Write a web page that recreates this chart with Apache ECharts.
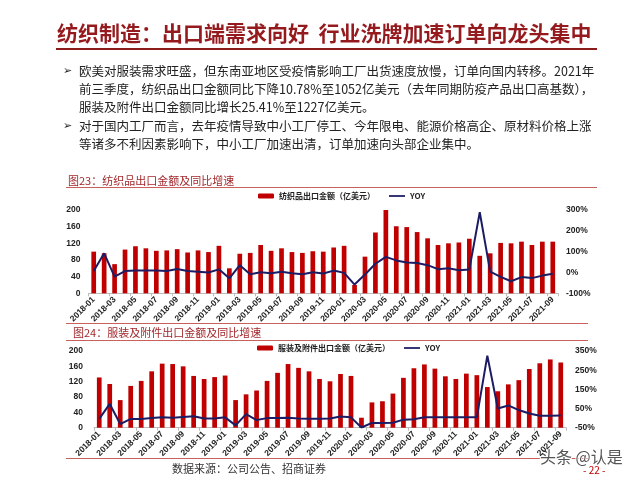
<!DOCTYPE html>
<html><head><meta charset="utf-8">
<script src="https://cdn.jsdelivr.net/npm/echarts@6/dist/echarts.min.js"></script>
<style>html,body{margin:0;padding:0;background:#fff}#c{width:640px;height:480px}</style>
</head><body><div id="c"></div>
<script>
const months = ['2018-01','2018-02','2018-03','2018-04','2018-05','2018-06','2018-07','2018-08','2018-09','2018-10','2018-11','2018-12',
'2019-01','2019-02','2019-03','2019-04','2019-05','2019-06','2019-07','2019-08','2019-09','2019-10','2019-11','2019-12',
'2020-01','2020-02','2020-03','2020-04','2020-05','2020-06','2020-07','2020-08','2020-09','2020-10','2020-11','2020-12',
'2021-01','2021-02','2021-03','2021-04','2021-05','2021-06','2021-07','2021-08','2021-09'];
const textileExports = [100,96,70,105,113,108,102,103,106,98,103,99,114,60,95,97,116,102,108,99,97,101,100,110,114,20,88,146,200,161,159,147,132,116,120,122,131,90,96,121,120,124,116,124,124];
const textileYoy = [7,92,-20,7,9,10,9,7,17,7,4,0,15,-28,35,-8,1,-4,4,-4,-8,1,-5,9,-2,-58,-10,42,75,58,48,45,35,16,20,11,14,289,4,-21,-42,-22,-27,-15,-6];
const apparelExports = [131,114,72,109,122,147,167,166,160,135,127,132,136,72,87,97,122,143,166,156,147,127,121,140,135,26,66,69,89,130,155,165,154,134,127,141,137,106,95,113,124,153,168,178,170];
const apparelYoy = [-4,74,-31,-4,-4,0,4,2,6,10,-2,-2,4,-38,21,-10,0,0,2,-2,-3,-3,-2,8,4,-49,-25,-25,-24,-8,-6,4,4,4,4,4,4,326,50,66,42,24,12,12,14];
const leftTicks1 = [0,200,40];
const rightTicks1 = [-100,300,100];
const leftTicks2 = [0,200,40];
const rightTicks2 = [-50,350,100];

const CJK = '"Noto Sans CJK SC", sans-serif';
const AX = '"Liberation Sans", Arial, sans-serif';
const red = '#c00000', navy = '#1c1c64', lineRed = '#c8605c';

function hline(y, x1, x2, color, w) {
  return {type:'rect', shape:{x:x1, y:y - w/2, width:x2 - x1, height:w}, style:{fill:color}, silent:true};
}
function txt(x, y, s, size, color, weight, family) {
  return {type:'text', x:x, y:y, style:{text:s, fontSize:size, fontFamily:family || CJK, fontWeight:weight || 'normal', fill:color, verticalAlign:'middle'}, silent:true};
}
const bodyColor = '#222';
const graphics = [
  txt(57, 33, '纺织制造：出口端需求向好  行业洗牌加速订单向龙头集中', 21, '#951a1e', 'bold'),
  hline(49, 56, 597, '#8b1a1a', 2),
  txt(63, 71, '➢', 11, bodyColor, 'bold', '"DejaVu Sans", sans-serif'),
  txt(79, 71, '欧美对服装需求旺盛，但东南亚地区受疫情影响工厂出货速度放慢，订单向国内转移。2021年', 12.5, bodyColor),
  txt(79, 89, '前三季度，纺织品出口金额同比下降10.78%至1052亿美元（去年同期防疫产品出口高基数），', 12.5, bodyColor),
  txt(79, 107, '服装及附件出口金额同比增长25.41%至1227亿美元。', 12.5, bodyColor),
  txt(63, 126, '➢', 11, bodyColor, 'bold', '"DejaVu Sans", sans-serif'),
  txt(79, 126, '对于国内工厂而言，去年疫情导致中小工厂停工、今年限电、能源价格高企、原材料价格上涨', 12.5, bodyColor),
  txt(79, 144, '等诸多不利因素影响下，中小工厂加速出清，订单加速向头部企业集中。', 12.5, bodyColor),
  txt(68, 181, '图23：纺织品出口金额及同比增速', 11, '#a3282c'),
  hline(187.5, 66, 597, lineRed, 1),
  hline(323.5, 66, 588, lineRed, 1),
  txt(73, 333, '图24：服装及附件出口金额及同比增速', 11, '#a3282c'),
  hline(340.5, 66, 588, lineRed, 1),
  hline(458.5, 66, 588, lineRed, 1),
  txt(172, 469, '数据来源：公司公告、招商证券', 11, '#333'),
  txt(583, 470, '- 22 -', 10, '#c00000'),
  {type:'text', x:540, y:457, style:{text:'头条 @认是', fontSize:16, fontFamily:CJK, fill:'#555', stroke:'#fff', lineWidth:2, verticalAlign:'middle'}, silent:true}
];

function yAxisDef(grid, ticks, isRight, pct, margin) {
  return {type:'value', gridIndex:grid, min:ticks[0], max:ticks[1], interval:ticks[2], position:isRight ? 'right' : 'left',
    splitLine:{show:false}, axisLine:{show:false}, axisTick:{show:false},
    axisLabel:{fontSize:8.5, fontFamily:AX, fontWeight:'bold', color:'#222', margin:margin, formatter: pct ? '{value}%' : '{value}'}};
}
function xAxisDef(grid) {
  return {type:'category', gridIndex:grid, data:months,
    axisLine:{lineStyle:{color:'#bbb'}}, axisTick:{show:true, lineStyle:{color:'#bbb'}, length:3},
    axisLabel:{interval:1, rotate:45, fontSize:8.5, fontFamily:AX, fontWeight:'bold', color:'#222', margin:5}};
}
const legendText = {fontSize:8, fontFamily:CJK, fontWeight:'bold', color:'#222'};
const lineIcon = 'path://M0,0L20,0L20,2.2L0,2.2Z';
const option = {
  animation:false,
  backgroundColor:'#fff',
  graphic: graphics,
  legend:[
    {data:['纺织品出口金额（亿美元）', {name:'YOY', icon:lineIcon}], left:253, top:187, itemWidth:16, itemHeight:5, itemGap:14, textStyle:legendText},
    {data:['服装及附件出口金额（亿美元）', {name:'YOY ', icon:lineIcon}], left:252, top:339, itemWidth:16, itemHeight:5, itemGap:14, textStyle:legendText}
  ],
  grid:[
    {left:88.5, right:82, top:210, height:83.3},
    {left:94, right:74, top:351, height:76.7}
  ],
  xAxis:[xAxisDef(0), xAxisDef(1)],
  yAxis:[yAxisDef(0, leftTicks1, false, false, 8), yAxisDef(0, rightTicks1, true, true, 8),
         yAxisDef(1, leftTicks2, false, false, 11), yAxisDef(1, rightTicks2, true, true, 9)],
  series:[
    {name:'纺织品出口金额（亿美元）', type:'bar', xAxisIndex:0, yAxisIndex:0, data:textileExports, barWidth:'45%', itemStyle:{color:red}},
    {name:'YOY', type:'line', xAxisIndex:0, yAxisIndex:1, data:textileYoy, symbol:'none', lineStyle:{color:navy, width:2}, itemStyle:{color:navy}},
    {name:'服装及附件出口金额（亿美元）', type:'bar', xAxisIndex:1, yAxisIndex:2, data:apparelExports, barWidth:'45%', itemStyle:{color:red}},
    {name:'YOY ', type:'line', xAxisIndex:1, yAxisIndex:3, data:apparelYoy, symbol:'none', lineStyle:{color:navy, width:2}, itemStyle:{color:navy}}
  ]
};
echarts.init(document.getElementById('c'), null, {renderer:'canvas'}).setOption(option);
</script></body></html>
